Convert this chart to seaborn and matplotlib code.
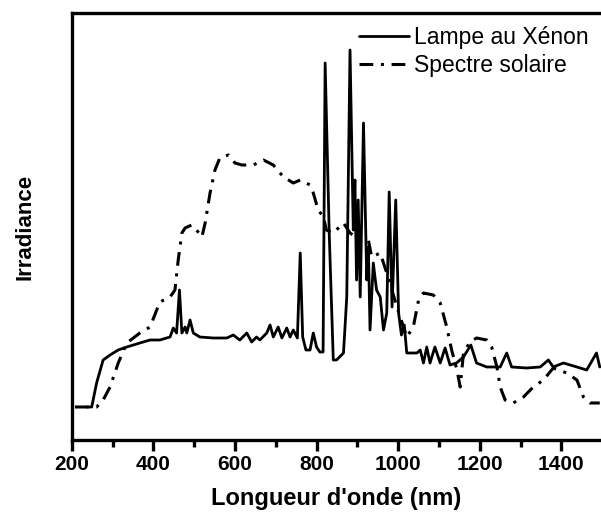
import matplotlib
matplotlib.use("Agg")
import matplotlib.pyplot as plt
import seaborn as sns
from matplotlib.ticker import MultipleLocator

# Xenon lamp spectrum (arbitrary irradiance units)
xenon_nm = [237, 249, 261, 277, 294, 314, 335, 367, 392, 416, 441, 449, 457, 464, 470,
            478, 482, 490, 498, 514, 547, 580, 596, 612, 629, 641, 653, 661, 678, 686,
            694, 706, 715, 727, 735, 743, 753, 760, 766, 774, 784, 792, 800, 808, 816,
            821, 831, 841, 849, 866, 874, 882, 890, 894, 898, 902, 907, 915, 923, 927,
            931, 939, 947, 956, 964, 972, 978, 985, 994, 1001, 1008, 1015, 1021, 1029,
            1046, 1054, 1062, 1070, 1078, 1090, 1103, 1115, 1127, 1143, 1160, 1178, 1192,
            1217, 1250, 1266, 1278, 1315, 1348, 1368, 1380, 1405, 1438, 1462, 1486, 1494]
xenon_irr = [33, 33, 57, 80, 85, 90, 93, 97, 100, 100, 103, 112, 107, 150, 107,
             113, 107, 120, 107, 103, 102, 102, 105, 100, 107, 98, 103, 100, 107, 115,
             103, 113, 102, 112, 103, 110, 102, 187, 103, 90, 90, 107, 93, 88, 88,
             377, 207, 80, 80, 87, 143, 390, 210, 260, 160, 240, 143, 317, 160, 193,
             110, 177, 150, 143, 110, 127, 248, 133, 240, 127, 105, 115, 87, 87,
             87, 90, 77, 93, 77, 93, 77, 92, 75, 77, 83, 95, 77,
             73, 73, 87, 73, 72, 73, 80, 73, 77, 73, 70, 87, 73]

# Solar spectrum
solar_nm = [208, 261, 277, 294, 314, 335, 367, 392, 416, 441, 453, 461, 470, 478, 494,
            506, 519, 527, 539, 551, 563, 584, 600, 617, 645, 670, 694, 719, 743, 760,
            784, 792, 804, 817, 824, 841, 866, 882, 907, 927, 935, 956, 972, 997, 1021,
            1037, 1050, 1062, 1086, 1103, 1119, 1131, 1144, 1152, 1160, 1176, 1192, 1217,
            1229, 1242, 1250, 1262, 1282, 1307, 1331, 1356, 1380, 1413, 1438, 1454, 1470, 1494]
solar_irr = [33, 33, 40, 53, 77, 97, 107, 113, 138, 143, 150, 180, 207, 212, 215,
             210, 203, 217, 247, 270, 282, 285, 277, 275, 275, 280, 275, 263, 257, 260,
             255, 247, 230, 223, 210, 207, 217, 207, 200, 200, 183, 187, 167, 133, 103,
             113, 140, 147, 145, 137, 113, 90, 70, 53, 87, 98, 102, 100,
             93, 73, 53, 40, 37, 43, 53, 60, 72, 67, 60, 43, 37, 37]

sns.set_style("ticks")
plt.rcParams["font.family"] = ["Liberation Sans", "DejaVu Sans"]
plt.rcParams["text.color"] = "black"
plt.rcParams["axes.labelcolor"] = "black"
plt.rcParams["xtick.color"] = "black"

fig = plt.figure(figsize=(6.01, 5.16), dpi=100)
ax = fig.add_axes([0.1193, 0.1473, 0.8807, 0.8275])

sns.lineplot(x=xenon_nm, y=xenon_irr, ax=ax, color="black", lw=2.0,
             estimator=None, sort=False, label="Lampe au Xénon")
sns.lineplot(x=solar_nm, y=solar_irr, ax=ax, color="black", lw=2.2,
             linestyle=(0, (4.5, 2.5, 1, 2.5)), estimator=None, sort=False,
             label="Spectre solaire")

ax.set_xlim(200, 1497)
ax.set_ylim(0, 427)
ax.xaxis.set_major_locator(MultipleLocator(200))
ax.xaxis.set_minor_locator(MultipleLocator(100))
ax.set_yticks([])
ax.tick_params(axis="x", which="major", direction="out", length=8, width=2.4,
               labelsize=15, pad=3, colors="black")
ax.tick_params(axis="x", which="minor", direction="out", length=5, width=2.4,
               colors="black")
for lbl in ax.get_xticklabels():
    lbl.set_fontweight("bold")

for side in ["left", "bottom", "top"]:
    ax.spines[side].set_linewidth(2.4)
    ax.spines[side].set_color("black")
ax.spines["right"].set_visible(False)

ax.set_xlabel("Longueur d'onde (nm)", fontsize=17, fontweight="bold", labelpad=9,
              color="black")
ax.set_ylabel("Irradiance", fontsize=16, fontweight="bold", labelpad=26,
              color="black")

leg = ax.legend(loc="upper right", bbox_to_anchor=(1.0, 1.0), frameon=False,
                fontsize=16.5, handlelength=2.2, handletextpad=0.2,
                labelspacing=0.25, borderaxespad=0.15)
for t in leg.get_texts():
    t.set_color("black")

fig.savefig("out.png", dpi=100)
